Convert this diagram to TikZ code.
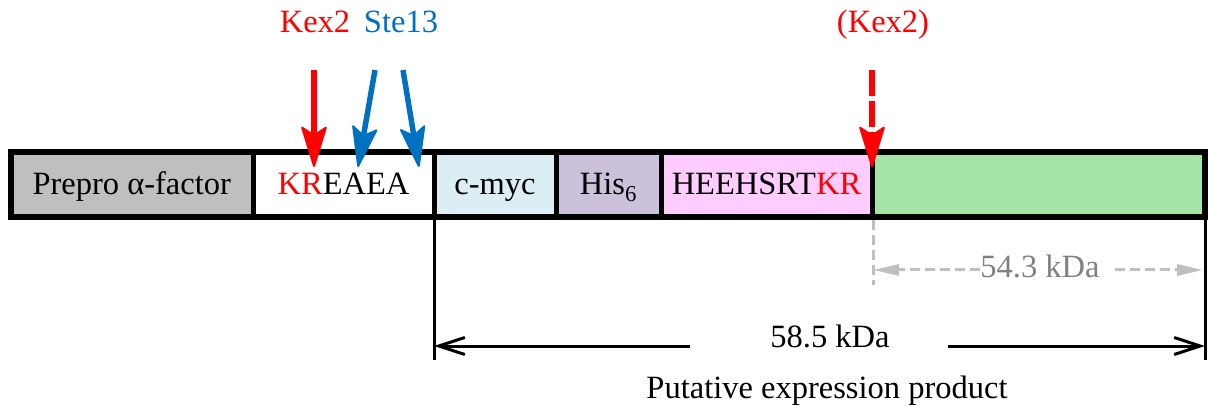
\documentclass[tikz,border=0pt]{standalone}
\usepackage{fontspec}
\setmainfont{Liberation Serif}
\usetikzlibrary{arrows.meta}
\definecolor{cutred}{HTML}{FF0000}
\definecolor{cutblue}{HTML}{0070C0}
\definecolor{segpre}{HTML}{BFBFBF}
\definecolor{segmyc}{HTML}{DAEEF3}
\definecolor{seghis}{HTML}{CCC1DA}
\definecolor{segpink}{HTML}{FFCCFF}
\definecolor{seggreen}{HTML}{A6E3A6}
\definecolor{dimgray}{HTML}{BFBFBF}
\definecolor{dimtext}{HTML}{808080}
\begin{document}
\begin{tikzpicture}[x=1pt,y=-1pt,
  every node/.style={font=\fontsize{32.5}{38}\selectfont, inner sep=0pt, outer sep=0pt},
  segment/.style={draw=black, line width=5pt, rectangle, minimum height=65pt,
    text height=21pt, text depth=0pt, anchor=west},
  cuthead/.style={-{Stealth[length=44pt,width=27pt,inset=9pt,round,line width=2pt]}, line width=5.5pt},
  dimline/.style={line width=3pt, -{Straight Barb[length=26pt,width=17pt,line width=3pt]}},
  grayline/.style={draw=dimgray, line width=3pt, dash pattern=on 10pt off 5pt},
  grayarrow/.style={grayline, -{Triangle[length=26pt,width=11pt]}},
  lbl/.style={anchor=base}]
\useasboundingbox (0,0) rectangle (1208,406);

% construct segments
\node[segment, fill=segpre,  minimum width=242.5pt] (pre)   at (10.5,184.5) {Prepro α-factor};
\node[segment, fill=white,   minimum width=181pt]   (spc)   at (253,184.5)  {\textcolor{cutred}{KR}EAEA};
\node[segment, fill=segmyc,  minimum width=122pt]   (myc)   at (434,184.5)  {c-myc};
\node[segment, fill=seghis,  minimum width=105pt]   (his)   at (556,184.5)  {His\textsubscript{6}};
\node[segment, fill=segpink, minimum width=211pt]   (link)  at (661,184.5)  {HEEHSRT\textcolor{cutred}{KR}};
\node[segment, fill=seggreen,minimum width=333pt]   (prot)  at (872,184.5)  {};
\draw[line width=6pt] (pre.north west) rectangle (prot.south east);

% cleavage sites
\node[lbl, text=cutred]  (kex)  at (315,33) {Kex2};
\node[lbl, text=cutblue] (ste)  at (401,33) {Ste13};
\node[lbl, text=cutred]  (kexb) at (883,33) {(Kex2)};

\coordinate (kexS) at (314,70);   \coordinate (kexT) at (314,167);
\coordinate (steAS) at (375,70);  \coordinate (steAT) at (358,167);
\coordinate (steBS) at (403,70);  \coordinate (steBT) at (419,167);
\coordinate (kexbS) at (872,70);  \coordinate (kexbT) at (872,167);

\draw[cuthead, draw=cutred, fill=cutred] (kexS) -- (kexT);
\draw[cuthead, draw=cutblue, fill=cutblue] (steAS) -- (steAT);
\draw[cuthead, draw=cutblue, fill=cutblue] (steBS) -- (steBT);
\draw[cuthead, draw=cutred, fill=cutred, dash pattern=on 26pt off 5pt] (kexbS) -- (kexbT);

% size of the mature product
\coordinate (gTop) at (873,220);
\coordinate (gBot) at (873,285);
\draw[grayline] (gTop) -- (gBot);
\node[lbl, text=dimtext] (kda543) at (1040,277) {54.3 kDa};
\coordinate (gL) at (873,270);
\coordinate (gR) at (1203,270);
\coordinate (gLs) at (980,270);
\coordinate (gRs) at (1115,270);
\draw[grayarrow] (gLs) -- (gL);
\draw[grayarrow] (gRs) -- (gR);

% size of the putative expression product
\coordinate (vL1) at (434,217); \coordinate (vL2) at (434,360);
\coordinate (vR1) at (1205,217); \coordinate (vR2) at (1205,360);
\draw[line width=3pt] (vL1) -- (vL2);
\draw[line width=3pt] (vR1) -- (vR2);
\node[lbl] (kda585) at (830,347) {58.5 kDa};
\coordinate (dL) at (434,346);  \coordinate (dLs) at (690,346);
\coordinate (dR) at (1205,346); \coordinate (dRs) at (948,346);
\draw[dimline] (dLs) -- (dL);
\draw[dimline] (dRs) -- (dR);
\node[lbl] (prod) at (827,398) {Putative expression product};
\end{tikzpicture}
\end{document}
